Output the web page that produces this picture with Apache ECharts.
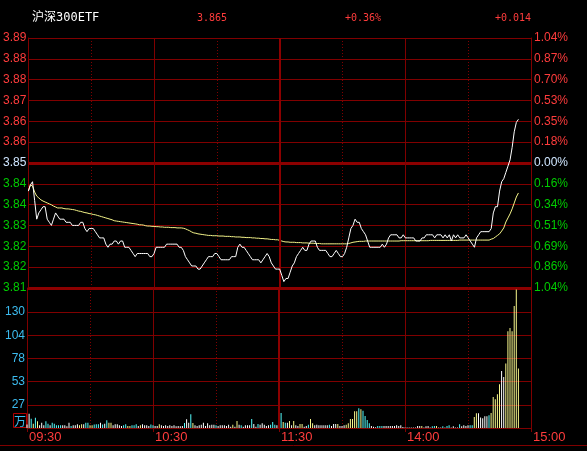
<!DOCTYPE html>
<html><head><meta charset="utf-8">
<script src="https://cdn.jsdelivr.net/npm/echarts@6/dist/echarts.min.js"></script>
<style>html,body{margin:0;padding:0;background:#000;}#c{width:587px;height:451px;}</style>
</head><body><div id="c"></div>
<script>
const stockName = '沪深300ETF';
const prevClose = 3.851;
const maxPct = 1.04;
const priceTickLabels = ['3.89','3.88','3.88','3.87','3.86','3.86','3.85','3.84','3.84','3.83','3.82','3.82','3.81'];
const pctTickLabels = ['1.04%','0.87%','0.70%','0.53%','0.35%','0.18%','0.00%','0.16%','0.34%','0.51%','0.69%','0.86%','1.04%'];
const volTickLabels = ['27','53','78','104','130'];
const volUnit = '万';
const timeTickLabels = ['09:30','10:30','11:30','14:00','15:00'];

const prices = [
3.842,3.844,3.845,3.839,3.833,3.835,3.836,3.837,3.837,3.833,
3.832,3.831,3.833,3.835,3.834,3.833,3.833,3.833,3.832,3.832,
3.832,3.831,3.831,3.831,3.831,3.832,3.832,3.830,3.829,3.830,
3.830,3.830,3.829,3.828,3.827,3.827,3.827,3.825,3.824,3.825,
3.825,3.826,3.826,3.825,3.826,3.826,3.824,3.824,3.824,3.823,
3.822,3.821,3.822,3.822,3.822,3.822,3.822,3.822,3.821,3.821,
3.822,3.824,3.824,3.824,3.824,3.824,3.825,3.825,3.825,3.825,
3.825,3.825,3.824,3.824,3.823,3.821,3.820,3.819,3.818,3.818,
3.818,3.817,3.817,3.818,3.819,3.820,3.821,3.821,3.821,3.822,
3.822,3.821,3.820,3.820,3.820,3.820,3.820,3.821,3.821,3.821,
3.824,3.825,3.824,3.824,3.823,3.822,3.821,3.820,3.820,3.820,
3.820,3.819,3.820,3.821,3.822,3.821,3.819,3.818,3.817,3.817,
3.817,3.815,3.813,3.814,3.814,3.816,3.818,3.819,3.821,3.822,
3.823,3.824,3.823,3.823,3.825,3.826,3.826,3.826,3.824,3.823,
3.823,3.823,3.823,3.822,3.821,3.821,3.822,3.823,3.822,3.821,
3.821,3.822,3.824,3.827,3.830,3.831,3.833,3.832,3.832,3.830,
3.829,3.828,3.826,3.824,3.824,3.824,3.824,3.824,3.824,3.825,
3.824,3.825,3.827,3.828,3.828,3.828,3.828,3.827,3.827,3.828,
3.827,3.827,3.827,3.827,3.827,3.826,3.826,3.826,3.827,3.827,
3.828,3.828,3.828,3.828,3.827,3.828,3.828,3.828,3.827,3.828,
3.827,3.828,3.826,3.828,3.827,3.828,3.827,3.827,3.827,3.828,
3.827,3.826,3.825,3.824,3.827,3.828,3.829,3.829,3.829,3.829,
3.829,3.830,3.835,3.837,3.837,3.842,3.845,3.846,3.848,3.850,
3.852,3.856,3.861,3.864,3.865
];

const avgPrices = [
3.8420,3.8440,3.8436,3.8417,3.8404,3.8398,3.8392,3.8388,3.8385,3.8382,
3.8379,3.8376,3.8372,3.8369,3.8366,3.8366,3.8366,3.8364,3.8363,3.8363,
3.8362,3.8361,3.8360,3.8358,3.8356,3.8355,3.8353,3.8351,3.8350,3.8348,
3.8347,3.8345,3.8344,3.8342,3.8340,3.8338,3.8336,3.8334,3.8332,3.8330,
3.8328,3.8325,3.8324,3.8323,3.8322,3.8321,3.8320,3.8319,3.8318,3.8317,
3.8316,3.8315,3.8314,3.8312,3.8312,3.8311,3.8309,3.8308,3.8308,3.8307,
3.8307,3.8306,3.8306,3.8305,3.8305,3.8304,3.8304,3.8304,3.8303,3.8303,
3.8303,3.8302,3.8302,3.8302,3.8301,3.8299,3.8296,3.8293,3.8289,3.8286,
3.8285,3.8283,3.8282,3.8281,3.8280,3.8279,3.8278,3.8278,3.8277,3.8277,
3.8277,3.8276,3.8276,3.8276,3.8275,3.8275,3.8275,3.8274,3.8274,3.8273,
3.8273,3.8273,3.8272,3.8272,3.8271,3.8271,3.8271,3.8270,3.8270,3.8269,
3.8269,3.8268,3.8268,3.8267,3.8267,3.8266,3.8265,3.8265,3.8264,3.8264,
3.8262,3.8260,3.8258,3.8257,3.8257,3.8256,3.8256,3.8256,3.8255,3.8255,
3.8255,3.8254,3.8254,3.8254,3.8253,3.8253,3.8253,3.8252,3.8252,3.8252,
3.8251,3.8251,3.8251,3.8251,3.8251,3.8251,3.8251,3.8251,3.8251,3.8251,
3.8251,3.8251,3.8251,3.8252,3.8254,3.8256,3.8257,3.8258,3.8259,3.8259,
3.8259,3.8260,3.8260,3.8260,3.8260,3.8260,3.8260,3.8260,3.8260,3.8260,
3.8260,3.8260,3.8260,3.8260,3.8260,3.8260,3.8260,3.8260,3.8261,3.8261,
3.8261,3.8261,3.8261,3.8261,3.8261,3.8261,3.8261,3.8261,3.8261,3.8261,
3.8261,3.8261,3.8262,3.8262,3.8262,3.8262,3.8262,3.8262,3.8262,3.8262,
3.8262,3.8262,3.8262,3.8262,3.8262,3.8262,3.8263,3.8263,3.8263,3.8263,
3.8263,3.8263,3.8263,3.8263,3.8263,3.8263,3.8263,3.8263,3.8263,3.8263,
3.8263,3.8266,3.8268,3.8273,3.8278,3.8283,3.8292,3.8302,3.8321,3.8334,
3.8347,3.8363,3.8382,3.8401,3.8414
];

const volumes = [
3.8,16.1,10.5,4.9,11.6,7.5,3.0,6.0,3.0,7.5,
4.9,3.0,6.0,4.9,3.0,3.0,3.0,3.0,3.0,2.0,
6.0,2.3,3.0,3.0,4.1,3.0,4.1,4.1,6.0,6.0,
3.0,3.0,3.8,4.1,4.1,6.0,3.8,4.9,8.6,6.0,
6.0,3.0,4.1,4.1,3.0,2.3,3.0,4.1,2.3,2.3,
3.0,3.0,4.1,2.3,3.0,4.1,3.0,3.0,2.3,3.8,
3.0,2.3,2.3,4.1,3.0,2.3,3.0,2.3,3.0,2.3,
3.0,2.0,2.3,2.0,2.3,5.7,9.7,6.0,15.4,5.7,
3.0,2.3,
3.0,3.7,6.0,2.2,5.2,3.0,3.7,3.7,3.0,2.2,
3.0,3.0,3.0,2.2,3.7,1.5,3.7,1.5,7.8,3.7,
3.0,1.5,3.0,3.0,3.0,10.1,4.5,1.5,4.5,3.7,
5.2,3.7,2.2,3.0,3.7,6.7,3.7,3.0,4.5,16.8,
6.7,6.0,6.0,7.8,3.0,7.8,3.0,2.2,4.5,4.5,
1.5,2.2,3.7,10.1,5.2,3.0,3.7,3.0,3.0,3.0,
3.0,3.0,3.7,2.2,4.5,4.5,4.5,2.2,2.2,3.0,
3.7,5.2,10.1,10.1,18.7,18.7,22.0,20.9,19.4,13.4,
9.0,5.2,2.2,1.5,0.8,2.2,2.2,2.2,2.2,2.2,
2.2,2.2,2.2,2.2,3.0,2.2,3.0,
1.1,0.7,0.7,0.7,0.7,0.7,0.7,2.2,2.2,2.2,
0.7,1.9,2.2,0.7,1.9,2.2,2.2,0.7,0.7,1.9,
0.7,2.2,3.0,0.7,1.9,0.7,0.7,4.1,1.9,3.0,
2.2,3.0,3.0,3.0,12.3,16.4,16.4,11.9,10.8,13.1,
13.1,14.2,16.8,34.7,32.1,37.7,48.9,63.8,57.1,72.4,
108.3,112.0,108.3,136.6,155.3,66.8
];

// w = white, c = cyan, y = yellow (trade direction class for each minute)
const volDir = (
'wwcycywwwc'+'cwcccccwww'+'wcwwwyywcc'+'yycccwcwcy'+'ywwwwwccyy'+'cccwywwwwc'+'cwwywwwwww'+'wwwwwcwwcy'+'ww'+
'wwwwwwwwcw'+'wwwwwwywyw'+'cwwwwcwwcw'+'wwwwcccwwc'+'ycwywywwyy'+'wwcyywwwww'+'wwcwwwywww'+'yyyyyycycc'+'ccwwwcccww'+'wwwwwww'+
'wwwwwwwwwy'+'wwwwccywwc'+'wccwwwwcww'+'wwccyywwww'+'wcyyyyywwy'+'yyyyyy'
).split('');

// minute categories of the trading day
const times = [];
function hm(m){ const h = Math.floor(m/60), mm = m%60; return (h<10?'0':'')+h+':'+(mm<10?'0':'')+mm; }
for (let m = 570; m <= 690; m++) times.push(hm(m));
for (let m = 781; m <= 900; m++) times.push(hm(m));

const GRID = '#800000';
const THICK = '#8c0000';
const RED = '#ff3c3c';
const GREEN = '#00cc00';
const LIGHT = '#cfe6ff';
const CYAN = '#3cbcf0';
const dirColor = { w: '#ffffff', c: '#54fcfc', y: '#f8f88c' };

const minP = prevClose * (1 - maxPct / 100);
const maxP = prevClose * (1 + maxPct / 100);
const lastPrice = prices[prices.length - 1];
const change = lastPrice - prevClose;
const changePct = change / prevClose * 100;
const sign = v => (v >= 0 ? '+' : '');

const chart = echarts.init(document.getElementById('c'), null, { renderer: 'canvas' });

const hiddenCat = (grid, solid) => ({
  type: 'category', gridIndex: grid, data: times, boundaryGap: false,
  axisLine: { show: false }, axisTick: { show: false }, axisLabel: { show: false },
  splitLine: {
    show: true,
    interval: (i) => solid ? (i % 60 === 0) : (i % 60 === 30),
    lineStyle: { color: GRID, width: 1, type: solid ? 'solid' : [1, 2] }
  }
});

const colorByLevel = (v) => { const n = Math.round(Number(v)); return n > 6 ? RED : (n === 6 ? LIGHT : GREEN); };

const option = {
  backgroundColor: '#000',
  animation: false,
  grid: [
    { left: 27, top: 38, width: 504, height: 250 },
    { left: 27, top: 288, width: 504, height: 140 }
  ],
  xAxis: [
    hiddenCat(0, true),
    hiddenCat(0, false),
    Object.assign(hiddenCat(1, true), {
      axisLine: { show: true, lineStyle: { color: GRID, width: 1 } },
      axisTick: { show: true, length: 4, interval: (i) => i % 60 === 0, lineStyle: { color: GRID } },
      axisLabel: {
        show: true, interval: (i, v) => timeTickLabels.indexOf(v) >= 0,
        align: 'left', color: RED, fontSize: 13, fontFamily: 'Liberation Sans', margin: 3,
        padding: [0, 0, 0, 2]
      }
    }),
    hiddenCat(1, false)
  ],
  yAxis: [
    { type: 'value', gridIndex: 0, min: minP, max: maxP, show: false, splitLine: { show: false } },
    {
      type: 'value', gridIndex: 0, position: 'left', min: 0, max: 12, interval: 1,
      axisLine: { show: true, lineStyle: { color: GRID } }, axisTick: { show: false },
      axisLabel: { formatter: (v) => priceTickLabels[12 - Math.round(v)], color: colorByLevel,
        fontSize: 12, fontFamily: 'Liberation Sans', margin: 2 },
      splitLine: { show: true, lineStyle: { color: GRID, width: 1 } }
    },
    {
      type: 'value', gridIndex: 0, position: 'right', min: 0, max: 12, interval: 1,
      axisLine: { show: true, lineStyle: { color: GRID } }, axisTick: { show: false },
      axisLabel: { formatter: (v) => pctTickLabels[12 - Math.round(v)], color: colorByLevel,
        fontSize: 12, fontFamily: 'Liberation Sans', margin: 3 },
      splitLine: { show: false }
    },
    {
      type: 'value', gridIndex: 1, position: 'left', min: 0, max: 156.9, interval: 26,
      axisLine: { show: true, lineStyle: { color: GRID } }, axisTick: { show: false },
      axisLabel: {
        formatter: (v) => { const k = Math.round(v / 26); return (Math.abs(v - k * 26) < 1e-6 && k >= 1 && k <= 5) ? volTickLabels[k - 1] : ''; },
        color: CYAN, fontSize: 12, fontFamily: 'Liberation Sans', margin: 2
      },
      splitLine: { show: true, lineStyle: { color: GRID, width: 1 } }
    },
    {
      type: 'value', gridIndex: 1, position: 'right', min: 0, max: 156.9,
      axisLine: { show: true, lineStyle: { color: GRID } }, axisTick: { show: false },
      axisLabel: { show: false }, splitLine: { show: false }
    },
    {
      // thick lines: previous close (0) and lower limit (-1); top one transparent
      type: 'value', gridIndex: 0, position: 'left', min: -1, max: 1, interval: 1,
      axisLine: { show: false }, axisTick: { show: false }, axisLabel: { show: false },
      splitLine: { show: true, lineStyle: { color: [THICK, THICK, 'rgba(0,0,0,0)'], width: 3 } }
    }
  ],
  series: [
    {
      type: 'line', xAxisIndex: 0, yAxisIndex: 0, data: prices, symbol: 'none',
      lineStyle: { color: '#ffffff', width: 1 }, itemStyle: { color: '#ffffff' }, z: 5,
      markLine: {
        silent: true, symbol: ['none', 'none'], label: { show: false }, animation: false,
        emphasis: { disabled: true },
        data: [ { xAxis: '11:30', lineStyle: { color: THICK, width: 2, type: 'solid' } } ]
      }
    },
    {
      type: 'line', xAxisIndex: 0, yAxisIndex: 0, data: avgPrices, symbol: 'none',
      lineStyle: { color: '#f5f58a', width: 1 }, itemStyle: { color: '#f5f58a' }, z: 4
    },
    {
      type: 'bar', xAxisIndex: 2, yAxisIndex: 3, data: volumes, barWidth: 1,
      itemStyle: { color: (p) => dirColor[volDir[p.dataIndex]] || '#fff' },
      markLine: {
        silent: true, symbol: ['none', 'none'], label: { show: false }, animation: false,
        emphasis: { disabled: true },
        data: [{ xAxis: '11:30', lineStyle: { color: THICK, width: 2, type: 'solid' } }]
      }
    }
  ],
  graphic: [
    { type: 'text', x: 32, y: 18, style: { text: stockName, fill: '#ffffff', font: '12px "DejaVu Sans Mono", "Noto Sans CJK SC"', textVerticalAlign: 'middle' } },
    { type: 'text', x: 197, y: 18, style: { text: lastPrice.toFixed(3), fill: RED, font: '10px "DejaVu Sans Mono"', textVerticalAlign: 'middle' } },
    { type: 'text', x: 345, y: 18, style: { text: sign(changePct) + changePct.toFixed(2) + '%', fill: RED, font: '10px "DejaVu Sans Mono"', textVerticalAlign: 'middle' } },
    { type: 'text', x: 495, y: 18, style: { text: sign(change) + change.toFixed(3), fill: RED, font: '10px "DejaVu Sans Mono"', textVerticalAlign: 'middle' } },
    { type: 'rect', shape: { x: 13.5, y: 413.5, width: 13, height: 14 }, style: { fill: 'none', stroke: '#b00000', lineWidth: 1 } },
    { type: 'text', x: 20, y: 421, style: { text: volUnit, fill: CYAN, font: '12px "Noto Sans CJK SC"', textAlign: 'center', textVerticalAlign: 'middle' } },
    { type: 'line', shape: { x1: 0, y1: 445.5, x2: 587, y2: 445.5 }, style: { stroke: GRID, lineWidth: 1 } }
  ]
};
chart.setOption(option);
</script>
</body></html>
